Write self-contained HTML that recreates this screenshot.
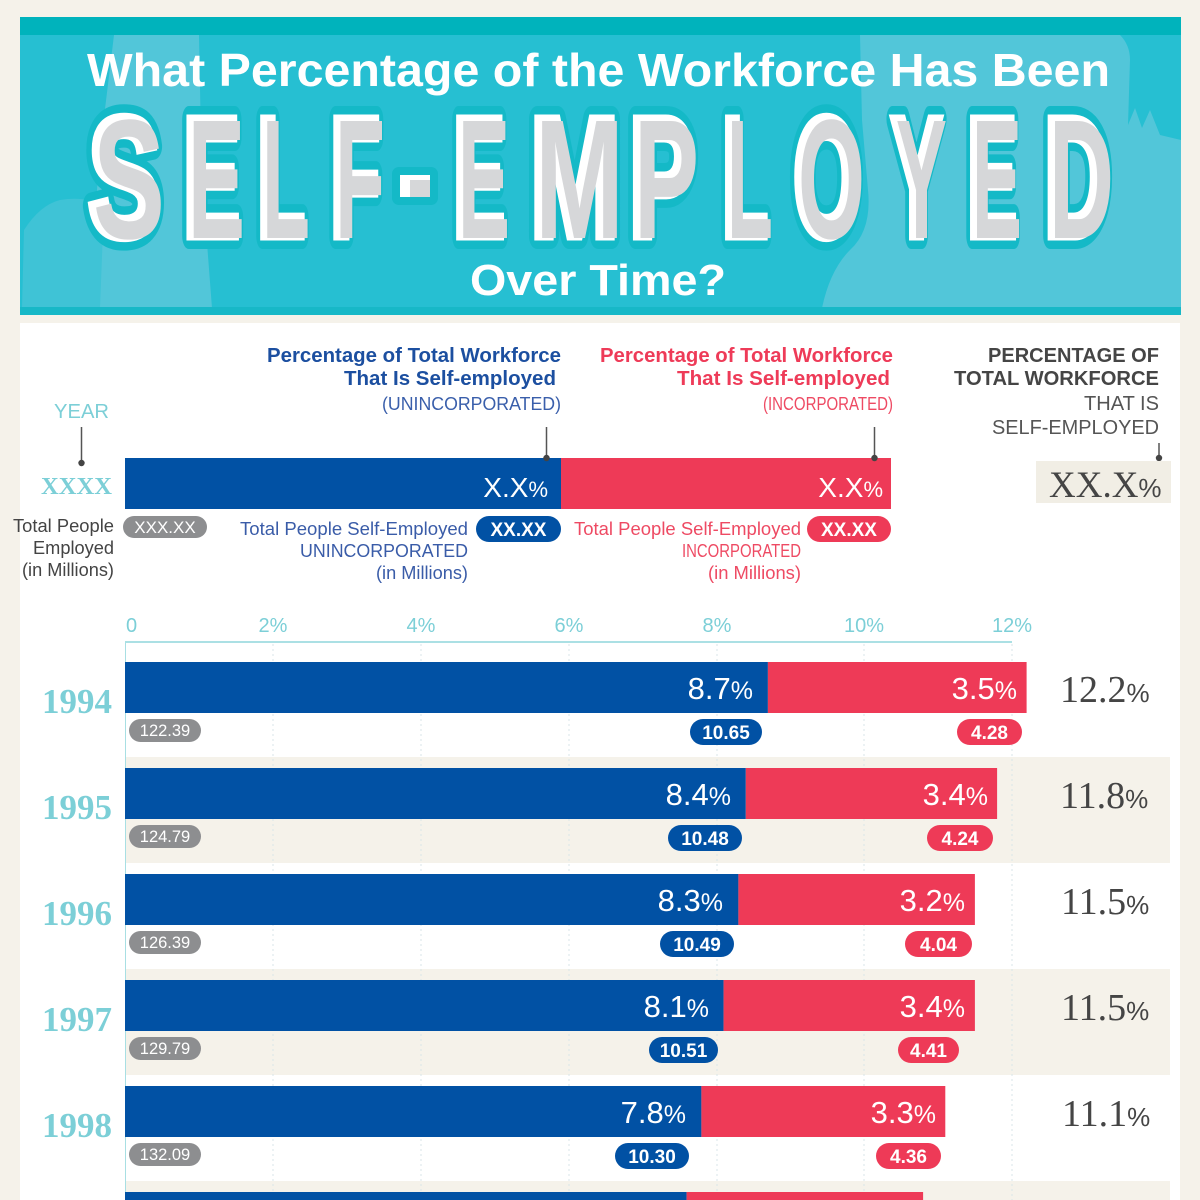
<!DOCTYPE html>
<html>
<head>
<meta charset="utf-8">
<style>
html,body{margin:0;padding:0;background:#f5f2ea;}
svg{display:block;}
</style>
</head>
<body>
<svg width="1200" height="1200" viewBox="0 0 1200 1200" xmlns="http://www.w3.org/2000/svg">
  <rect x="0" y="0" width="1200" height="1200" fill="#f5f2ea"/>

  <!-- HEADER -->
  <rect x="20" y="17" width="1161" height="298" fill="#26bfd2"/>
  <path d="M114 35 L199 35 L201 140 L206 230 L212 308 L92 308 L94 230 L100 150 Z" fill="#52c6d9"/>
  <path d="M22 308 L24 230 Q40 205 60 200 Q85 196 104 205 L100 308 Z" fill="#3fc3d6"/>
  <path d="M860 35 L1120 35 Q1130 45 1130 60 L1128 125 L1135 108 L1142 128 L1150 110 L1160 135 L1181 140 L1181 308 L822 308 Q830 270 850 250 Q872 230 868 190 L862 120 Z" fill="#52c6d9"/>
  <rect x="20" y="17" width="1161" height="18" fill="#00b3bc"/>
  <rect x="20" y="307" width="1161" height="8" fill="#17b8c7"/>

  <text x="87" y="86" textLength="1023" lengthAdjust="spacingAndGlyphs" font-family="Liberation Sans, sans-serif" font-weight="bold" font-size="46" fill="#ffffff">What Percentage of the Workforce Has Been</text>
  <text x="470" y="295" textLength="256" lengthAdjust="spacingAndGlyphs" font-family="Liberation Sans, sans-serif" font-weight="bold" font-size="44" fill="#ffffff">Over Time?</text>

  <g font-family="Liberation Sans, sans-serif" font-weight="bold" font-size="170">
    <g fill="#14b9c7" stroke="#14b9c7" stroke-width="26" stroke-linejoin="round">
      <text x="88" y="236" textLength="72" lengthAdjust="spacingAndGlyphs">S</text>
      <text x="183" y="236" textLength="57" lengthAdjust="spacingAndGlyphs">E</text>
      <text x="257" y="236" textLength="48" lengthAdjust="spacingAndGlyphs">L</text>
      <text x="330" y="236" textLength="50" lengthAdjust="spacingAndGlyphs">F</text>
      <text x="453" y="236" textLength="52" lengthAdjust="spacingAndGlyphs">E</text>
      <text x="530" y="236" textLength="89" lengthAdjust="spacingAndGlyphs">M</text>
      <text x="629" y="236" textLength="65" lengthAdjust="spacingAndGlyphs">P</text>
      <text x="722" y="236" textLength="46" lengthAdjust="spacingAndGlyphs">L</text>
      <text x="793" y="236" textLength="67" lengthAdjust="spacingAndGlyphs">O</text>
      <text x="891" y="236" textLength="51" lengthAdjust="spacingAndGlyphs">Y</text>
      <text x="967" y="236" textLength="50" lengthAdjust="spacingAndGlyphs">E</text>
      <text x="1044" y="236" textLength="65" lengthAdjust="spacingAndGlyphs">D</text>
    </g>
    <rect x="392" y="167" width="46" height="38" rx="7" fill="#14b9c7"/>
    <g fill="#ffffff" stroke="#ffffff" stroke-width="9" stroke-linejoin="miter">
      <text x="88" y="236" textLength="72" lengthAdjust="spacingAndGlyphs">S</text>
      <text x="183" y="236" textLength="57" lengthAdjust="spacingAndGlyphs">E</text>
      <text x="257" y="236" textLength="48" lengthAdjust="spacingAndGlyphs">L</text>
      <text x="330" y="236" textLength="50" lengthAdjust="spacingAndGlyphs">F</text>
      <text x="453" y="236" textLength="52" lengthAdjust="spacingAndGlyphs">E</text>
      <text x="530" y="236" textLength="89" lengthAdjust="spacingAndGlyphs">M</text>
      <text x="629" y="236" textLength="65" lengthAdjust="spacingAndGlyphs">P</text>
      <text x="722" y="236" textLength="46" lengthAdjust="spacingAndGlyphs">L</text>
      <text x="793" y="236" textLength="67" lengthAdjust="spacingAndGlyphs">O</text>
      <text x="891" y="236" textLength="51" lengthAdjust="spacingAndGlyphs">Y</text>
      <text x="967" y="236" textLength="50" lengthAdjust="spacingAndGlyphs">E</text>
      <text x="1044" y="236" textLength="65" lengthAdjust="spacingAndGlyphs">D</text>
    </g>
    <rect x="400" y="175" width="30" height="22" fill="#ffffff"/>
    <g fill="#d6d7d9" transform="translate(5,2)">
      <text x="88" y="236" textLength="72" lengthAdjust="spacingAndGlyphs">S</text>
      <text x="183" y="236" textLength="57" lengthAdjust="spacingAndGlyphs">E</text>
      <text x="257" y="236" textLength="48" lengthAdjust="spacingAndGlyphs">L</text>
      <text x="330" y="236" textLength="50" lengthAdjust="spacingAndGlyphs">F</text>
      <text x="453" y="236" textLength="52" lengthAdjust="spacingAndGlyphs">E</text>
      <text x="530" y="236" textLength="89" lengthAdjust="spacingAndGlyphs">M</text>
      <text x="629" y="236" textLength="65" lengthAdjust="spacingAndGlyphs">P</text>
      <text x="722" y="236" textLength="46" lengthAdjust="spacingAndGlyphs">L</text>
      <text x="793" y="236" textLength="67" lengthAdjust="spacingAndGlyphs">O</text>
      <text x="891" y="236" textLength="51" lengthAdjust="spacingAndGlyphs">Y</text>
      <text x="967" y="236" textLength="50" lengthAdjust="spacingAndGlyphs">E</text>
      <text x="1044" y="236" textLength="65" lengthAdjust="spacingAndGlyphs">D</text>
    </g>
    <rect x="410" y="180" width="20" height="17" fill="#d6d7d9"/>
  </g>

  <!-- WHITE PANEL -->
  <rect x="20" y="323" width="1160" height="877" fill="#ffffff"/>

  <!-- LEGEND -->
  <g font-family="Liberation Sans, sans-serif">
    <text x="267" y="362" textLength="294" lengthAdjust="spacingAndGlyphs" font-size="20" font-weight="bold" fill="#1c4fa0">Percentage of Total Workforce</text>
    <text x="344" y="385" textLength="212" lengthAdjust="spacingAndGlyphs" font-size="20" font-weight="bold" fill="#1c4fa0">That Is Self-employed</text>
    <text x="382" y="410" textLength="179" lengthAdjust="spacingAndGlyphs" font-size="18" fill="#3a5fab">(UNINCORPORATED)</text>

    <text x="600" y="362" textLength="293" lengthAdjust="spacingAndGlyphs" font-size="20" font-weight="bold" fill="#ee3b58">Percentage of Total Workforce</text>
    <text x="677" y="385" textLength="213" lengthAdjust="spacingAndGlyphs" font-size="20" font-weight="bold" fill="#ee3b58">That Is Self-employed</text>
    <text x="763" y="410" textLength="130" lengthAdjust="spacingAndGlyphs" font-size="18" fill="#ee4a63">(INCORPORATED)</text>

    <text x="988" y="362" textLength="171" lengthAdjust="spacingAndGlyphs" font-size="20" font-weight="bold" fill="#454545">PERCENTAGE OF</text>
    <text x="954" y="385" textLength="205" lengthAdjust="spacingAndGlyphs" font-size="20" font-weight="bold" fill="#454545">TOTAL WORKFORCE</text>
    <text x="1084" y="410" textLength="75" lengthAdjust="spacingAndGlyphs" font-size="20" fill="#555555">THAT IS</text>
    <text x="992" y="434" textLength="167" lengthAdjust="spacingAndGlyphs" font-size="20" fill="#555555">SELF-EMPLOYED</text>

    <text x="54" y="418" textLength="55" lengthAdjust="spacingAndGlyphs" font-size="20" fill="#7ccfd7">YEAR</text>
  </g>
  <text x="41" y="494" textLength="71" lengthAdjust="spacingAndGlyphs" font-family="Liberation Serif, serif" font-weight="bold" font-size="24" fill="#7ccfd7">XXXX</text>

  <g stroke="#555" stroke-width="1.5">
    <line x1="81.5" y1="427" x2="81.5" y2="462"/>
    <line x1="546.5" y1="427" x2="546.5" y2="458"/>
    <line x1="874.5" y1="427" x2="874.5" y2="458"/>
    <line x1="1159" y1="443" x2="1159" y2="458"/>
  </g>

  <rect x="125" y="458" width="436" height="51" fill="#0151a4"/>
  <rect x="561" y="458" width="330" height="51" fill="#ee3a57"/>
  <g fill="#444">
    <circle cx="81.5" cy="463" r="3.2"/>
    <circle cx="546.5" cy="458" r="3.2"/>
    <circle cx="874.5" cy="458" r="3.2"/>
    <circle cx="1159" cy="458" r="3.2"/>
  </g>
  <g font-family="Liberation Sans, sans-serif" fill="#ffffff" font-size="28" text-anchor="end">
    <text x="548" y="497">X.X<tspan font-size="22">%</tspan></text>
    <text x="883" y="497">X.X<tspan font-size="22">%</tspan></text>
  </g>
  <rect x="1036" y="461" width="135" height="42" fill="#f1eee5"/>
  <text x="1049" y="497" font-family="Liberation Serif, serif" font-size="37" fill="#454545">XX.X<tspan font-family="Liberation Sans, sans-serif" font-size="26">%</tspan></text>

  <g font-family="Liberation Sans, sans-serif" font-size="18">
    <text x="13" y="532" textLength="101" lengthAdjust="spacingAndGlyphs" fill="#444">Total People</text>
    <text x="33" y="554" textLength="81" lengthAdjust="spacingAndGlyphs" fill="#444">Employed</text>
    <text x="22" y="576" textLength="92" lengthAdjust="spacingAndGlyphs" fill="#444">(in Millions)</text>

    <text x="240" y="535" textLength="228" lengthAdjust="spacingAndGlyphs" fill="#3a5ca8">Total People Self-Employed</text>
    <text x="300" y="557" textLength="168" lengthAdjust="spacingAndGlyphs" fill="#3a5ca8">UNINCORPORATED</text>
    <text x="376" y="579" textLength="92" lengthAdjust="spacingAndGlyphs" fill="#3a5ca8">(in Millions)</text>

    <text x="574" y="535" textLength="227" lengthAdjust="spacingAndGlyphs" fill="#ee4a63">Total People Self-Employed</text>
    <text x="682" y="557" textLength="119" lengthAdjust="spacingAndGlyphs" fill="#ee4a63">INCORPORATED</text>
    <text x="708" y="579" textLength="93" lengthAdjust="spacingAndGlyphs" fill="#ee4a63">(in Millions)</text>
  </g>
  <rect x="123" y="516" width="84" height="22" rx="11" fill="#8d8e90"/>
  <text x="165" y="533" text-anchor="middle" font-family="Liberation Sans, sans-serif" font-size="17" fill="#fff">XXX.XX</text>
  <rect x="476" y="516" width="85" height="26" rx="13" fill="#0151a4"/>
  <text x="518.5" y="536" text-anchor="middle" font-family="Liberation Sans, sans-serif" font-weight="bold" font-size="19" fill="#fff">XX.XX</text>
  <rect x="807" y="516" width="84" height="26" rx="13" fill="#ee3a57"/>
  <text x="849" y="536" text-anchor="middle" font-family="Liberation Sans, sans-serif" font-weight="bold" font-size="19" fill="#fff">XX.XX</text>

  <!-- AXIS -->
  <g font-family="Liberation Sans, sans-serif" font-size="20" fill="#7ccfd7">
    <text x="126" y="632">0</text>
    <text x="273" y="632" text-anchor="middle">2%</text>
    <text x="421" y="632" text-anchor="middle">4%</text>
    <text x="569" y="632" text-anchor="middle">6%</text>
    <text x="717" y="632" text-anchor="middle">8%</text>
    <text x="864" y="632" text-anchor="middle">10%</text>
    <text x="1012" y="632" text-anchor="middle">12%</text>
  </g>

  <rect x="125" y="757" width="1045" height="106" fill="#f5f2ea"/>
  <rect x="125" y="969" width="1045" height="106" fill="#f5f2ea"/>
  <rect x="125" y="1181" width="1045" height="19" fill="#f5f2ea"/>

  <g stroke="#d9e6e8" stroke-width="1" stroke-dasharray="2 3">
    <line x1="273" y1="644" x2="273" y2="1200"/>
    <line x1="421" y1="644" x2="421" y2="1200"/>
    <line x1="569" y1="644" x2="569" y2="1200"/>
    <line x1="717" y1="644" x2="717" y2="1200"/>
    <line x1="864" y1="644" x2="864" y2="1200"/>
    <line x1="1012" y1="644" x2="1012" y2="1200"/>
  </g>
  <line x1="125" y1="642" x2="1012" y2="642" stroke="#8fd6dc" stroke-width="1.5"/>
  <line x1="125.5" y1="642" x2="125.5" y2="1200" stroke="#a8dfe3" stroke-width="1"/>

  <g>
    <rect x="125" y="662" width="642.9" height="51" fill="#0151a4"/>
    <rect x="767.9" y="662" width="258.7" height="51" fill="#ee3a57"/>
    <rect x="125" y="768" width="620.8" height="51" fill="#0151a4"/>
    <rect x="745.8" y="768" width="251.3" height="51" fill="#ee3a57"/>
    <rect x="125" y="874" width="613.4" height="51" fill="#0151a4"/>
    <rect x="738.4" y="874" width="236.5" height="51" fill="#ee3a57"/>
    <rect x="125" y="980" width="598.6" height="51" fill="#0151a4"/>
    <rect x="723.6" y="980" width="251.3" height="51" fill="#ee3a57"/>
    <rect x="125" y="1086" width="576.4" height="51" fill="#0151a4"/>
    <rect x="701.4" y="1086" width="243.9" height="51" fill="#ee3a57"/>
    <rect x="125" y="1192" width="561.6" height="51" fill="#0151a4"/>
    <rect x="686.6" y="1192" width="236.5" height="51" fill="#ee3a57"/>
  </g>

  <g font-family="Liberation Sans, sans-serif" fill="#ffffff" font-size="31" text-anchor="end">
    <text x="753" y="699">8.7<tspan font-size="25">%</tspan></text>
    <text x="1017" y="699">3.5<tspan font-size="25">%</tspan></text>
    <text x="731" y="805">8.4<tspan font-size="25">%</tspan></text>
    <text x="988" y="805">3.4<tspan font-size="25">%</tspan></text>
    <text x="723" y="911">8.3<tspan font-size="25">%</tspan></text>
    <text x="965" y="911">3.2<tspan font-size="25">%</tspan></text>
    <text x="709" y="1017">8.1<tspan font-size="25">%</tspan></text>
    <text x="965" y="1017">3.4<tspan font-size="25">%</tspan></text>
    <text x="686" y="1123">7.8<tspan font-size="25">%</tspan></text>
    <text x="936" y="1123">3.3<tspan font-size="25">%</tspan></text>
  </g>

  <g font-family="Liberation Serif, serif" font-weight="bold" font-size="35" fill="#7ccfd7" text-anchor="end">
    <text x="112" y="713">1994</text>
    <text x="112" y="819">1995</text>
    <text x="112" y="925">1996</text>
    <text x="112" y="1031">1997</text>
    <text x="112" y="1137">1998</text>
  </g>

  <g font-family="Liberation Serif, serif" font-size="38" fill="#454545">
    <text x="1060" y="702">12.2<tspan font-family="Liberation Sans, sans-serif" font-size="26">%</tspan></text>
    <text x="1060" y="808">11.8<tspan font-family="Liberation Sans, sans-serif" font-size="26">%</tspan></text>
    <text x="1061" y="914">11.5<tspan font-family="Liberation Sans, sans-serif" font-size="26">%</tspan></text>
    <text x="1061" y="1020">11.5<tspan font-family="Liberation Sans, sans-serif" font-size="26">%</tspan></text>
    <text x="1062" y="1126">11.1<tspan font-family="Liberation Sans, sans-serif" font-size="26">%</tspan></text>
  </g>

  <g fill="#8d8e90">
    <rect x="129" y="719" width="72" height="23" rx="11.5"/>
    <rect x="129" y="825" width="72" height="23" rx="11.5"/>
    <rect x="129" y="931" width="72" height="23" rx="11.5"/>
    <rect x="129" y="1037" width="72" height="23" rx="11.5"/>
    <rect x="129" y="1143" width="72" height="23" rx="11.5"/>
  </g>
  <g font-family="Liberation Sans, sans-serif" font-size="16.5" fill="#fff" text-anchor="middle">
    <text x="165" y="736">122.39</text>
    <text x="165" y="842">124.79</text>
    <text x="165" y="948">126.39</text>
    <text x="165" y="1054">129.79</text>
    <text x="165" y="1160">132.09</text>
  </g>

  <g fill="#0151a4">
    <rect x="690" y="719" width="72" height="26" rx="13"/>
    <rect x="668" y="825" width="74" height="26" rx="13"/>
    <rect x="660" y="931" width="74" height="26" rx="13"/>
    <rect x="649" y="1037" width="69" height="26" rx="13"/>
    <rect x="615" y="1143" width="74" height="26" rx="13"/>
  </g>
  <g fill="#ee3a57">
    <rect x="957" y="719" width="65" height="26" rx="13"/>
    <rect x="927" y="825" width="66" height="26" rx="13"/>
    <rect x="905" y="931" width="67" height="26" rx="13"/>
    <rect x="898" y="1037" width="61" height="26" rx="13"/>
    <rect x="876" y="1143" width="65" height="26" rx="13"/>
  </g>
  <g font-family="Liberation Sans, sans-serif" font-weight="bold" font-size="19" fill="#fff" text-anchor="middle">
    <text x="726" y="739">10.65</text>
    <text x="705" y="845">10.48</text>
    <text x="697" y="951">10.49</text>
    <text x="683.5" y="1057">10.51</text>
    <text x="652" y="1163">10.30</text>
    <text x="989.5" y="739">4.28</text>
    <text x="960" y="845">4.24</text>
    <text x="938.5" y="951">4.04</text>
    <text x="928.5" y="1057">4.41</text>
    <text x="908.5" y="1163">4.36</text>
  </g>
</svg>
</body>
</html>
